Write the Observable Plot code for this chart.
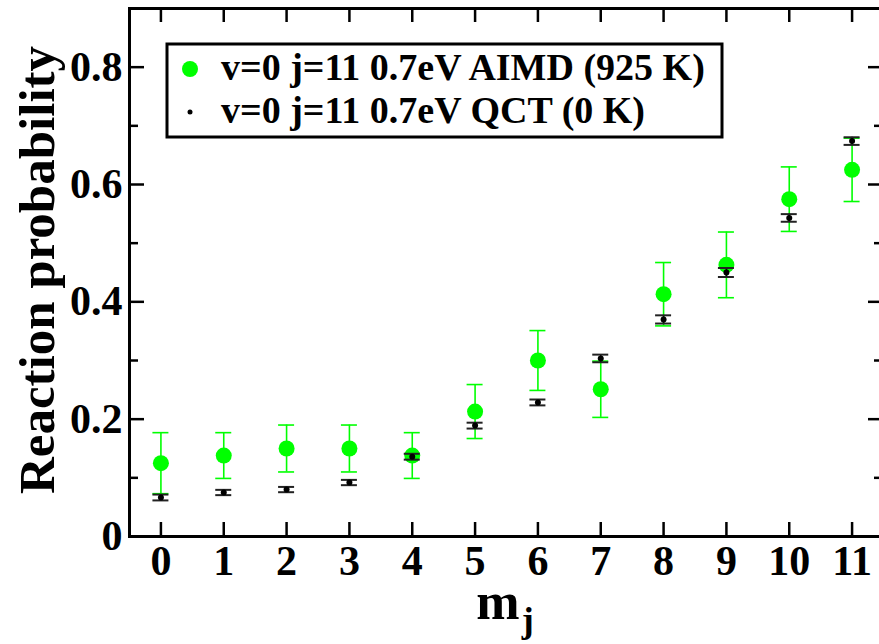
<!DOCTYPE html>
<html><head><meta charset="utf-8">
<script src="https://cdn.jsdelivr.net/npm/d3@7"></script>
<script src="https://cdn.jsdelivr.net/npm/@observablehq/plot@0.6"></script>
<style>
html,body{margin:0;padding:0;background:#fff;}
#chart{position:relative;width:879px;height:644px;overflow:hidden;}
</style></head><body><div id="chart"></div>
<script>
// m_j values
const mj = [0,1,2,3,4,5,6,7,8,9,10,11];
// AIMD (925 K) reaction probability and error
const aimd    = [0.125,0.138,0.150,0.150,0.138,0.213,0.300,0.251,0.413,0.463,0.575,0.625];
const aimdErr = [0.052,0.039,0.040,0.040,0.039,0.046,0.051,0.048,0.054,0.056,0.055,0.054];
// QCT (0 K) reaction probability and error
const qct     = [0.0665,0.075,0.080,0.092,0.136,0.189,0.2285,0.3035,0.370,0.450,0.543,0.674];
const qctErr  = [0.005,0.0045,0.0045,0.0045,0.005,0.005,0.005,0.0065,0.007,0.0077,0.0065,0.0065];
// ticks
const xTicks = [0,1,2,3,4,5,6,7,8,9,10,11];
const yTicks = [0,0.2,0.4,0.6,0.8];
const yMinor = [0.1,0.3,0.5,0.7];
const legendLabels = ["v=0 j=11 0.7eV AIMD (925 K)", "v=0 j=11 0.7eV QCT (0 K)"];
const yLabel = "Reaction probability";

const W = 879, H = 644, ML = 129, MT = 8, MB = 108, MR = -4;
const plotH = H - MT - MB, plotW = W - ML - MR;
const FONT = '"Liberation Serif","Times New Roman",Times,serif';
const green = "#00ff00";

const aRows = mj.map((m,i)=>({mj:m, p:aimd[i], lo:aimd[i]-aimdErr[i], hi:aimd[i]+aimdErr[i]}));
const qRows = mj.map((m,i)=>({mj:m, p:qct[i], lo:qct[i]-qctErr[i], hi:qct[i]+qctErr[i]}));

const chart = Plot.plot({
  width: W, height: H,
  marginLeft: ML, marginTop: MT, marginBottom: MB, marginRight: MR,
  style: {fontFamily: FONT, fontWeight: "bold", background: "white", color: "black"},
  x: {domain: [-0.5, 11.5]},
  y: {domain: [0, 0.9]},
  marks: [
    Plot.axisX({ticks: xTicks, tickSize: 0, tickPadding: 9, fontSize: 42, tickFormat: d => String(d), label: null}),
    Plot.axisY({ticks: yTicks, tickSize: 0, tickPadding: 7, fontSize: 42, tickFormat: d => d === 0 ? "0" : d.toFixed(1), label: null}),
    // inward ticks on all four sides
    Plot.tickY(yTicks, {y: d => d, stroke: "black", strokeWidth: 2.5, insetRight: plotW - 15}),
    Plot.tickY(yMinor, {y: d => d, stroke: "black", strokeWidth: 2.5, insetRight: plotW - 9}),
    Plot.tickY(yTicks, {y: d => d, stroke: "black", strokeWidth: 2.5, insetLeft: plotW - 15}),
    Plot.tickY(yMinor, {y: d => d, stroke: "black", strokeWidth: 2.5, insetLeft: plotW - 9}),
    Plot.tickX(xTicks, {x: d => d, stroke: "black", strokeWidth: 2.5, insetTop: plotH - 14}),
    Plot.tickX(xTicks, {x: d => d, stroke: "black", strokeWidth: 2.5, insetBottom: plotH - 14}),
    Plot.frame({stroke: "black", strokeWidth: 3}),
    // AIMD error bars
    Plot.ruleX(aRows, {x: "mj", y1: "lo", y2: "hi", stroke: green, strokeWidth: 1.6}),
    Plot.ruleY(aRows, {y: "hi", x1: "mj", x2: "mj", insetLeft: -8, insetRight: -8, stroke: green, strokeWidth: 1.6}),
    Plot.ruleY(aRows, {y: "lo", x1: "mj", x2: "mj", insetLeft: -8, insetRight: -8, stroke: green, strokeWidth: 1.6}),
    Plot.dot(aRows, {x: "mj", y: "p", r: 8, fill: green, stroke: null}),
    // QCT error bars
    Plot.ruleX(qRows, {x: "mj", y1: "lo", y2: "hi", stroke: "black", strokeWidth: 1.6}),
    Plot.ruleY(qRows, {y: "hi", x1: "mj", x2: "mj", insetLeft: -8, insetRight: -8, stroke: "#222", strokeWidth: 2}),
    Plot.ruleY(qRows, {y: "lo", x1: "mj", x2: "mj", insetLeft: -8, insetRight: -8, stroke: "#222", strokeWidth: 2}),
    Plot.dot(qRows, {x: "mj", y: "p", r: 3, fill: "black", stroke: null})
  ]
});

const svg = d3.select(chart);
// y title
svg.append("text")
  .attr("transform", "translate(36,270) rotate(-90)")
  .attr("text-anchor", "middle").attr("dy", "0.35em")
  .attr("font-size", 51).attr("font-weight", "bold").attr("font-family", FONT)
  .attr("fill", "black").text(yLabel);
// x title m_j
const xt = svg.append("text")
  .attr("x", 505).attr("y", 619).attr("text-anchor", "middle")
  .attr("font-size", 52).attr("font-weight", "bold").attr("font-family", FONT).attr("fill", "black");
xt.append("tspan").text("m");
xt.append("tspan").attr("font-size", 36).attr("dy", 13).attr("dx", 2).text("j");
// legend
const lg = svg.append("g").attr("font-family", FONT).attr("font-weight", "bold").attr("text-anchor", "start");
lg.append("rect").attr("x", 167).attr("y", 44).attr("width", 555).attr("height", 93)
  .attr("fill", "white").attr("stroke", "black").attr("stroke-width", 3);
lg.append("circle").attr("cx", 190).attr("cy", 69).attr("r", 8).attr("fill", green);
lg.append("circle").attr("cx", 190).attr("cy", 112).attr("r", 2.5).attr("fill", "black");
lg.append("text").attr("x", 221).attr("y", 80).attr("font-size", 38).attr("text-anchor", "start").attr("fill", "black").text(legendLabels[0]);
lg.append("text").attr("x", 221).attr("y", 123).attr("font-size", 38).attr("text-anchor", "start").attr("fill", "black").text(legendLabels[1]);

document.getElementById("chart").appendChild(chart);
</script></body></html>
